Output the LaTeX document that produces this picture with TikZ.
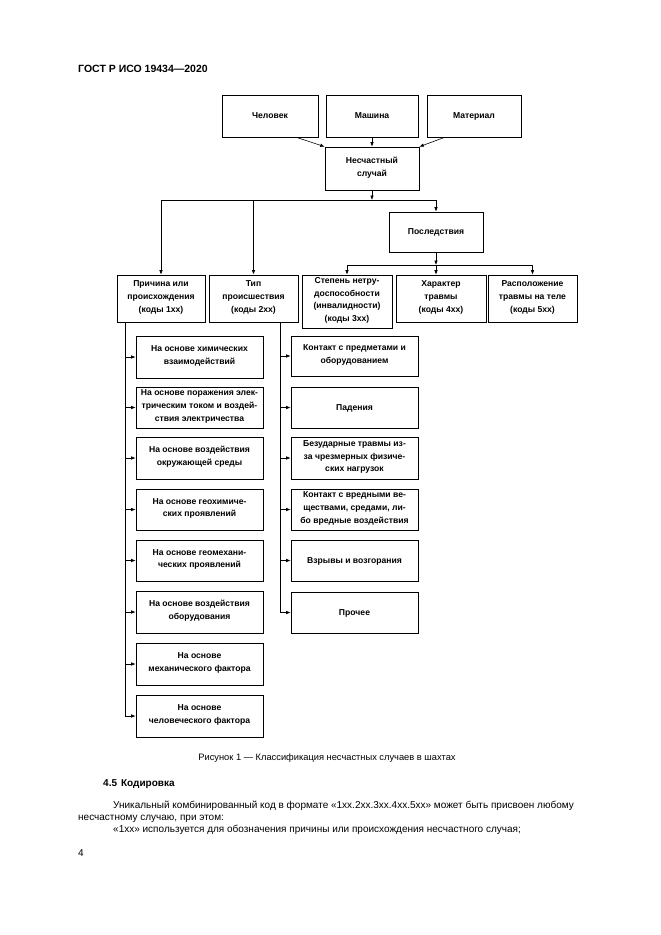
\documentclass[tikz,border=0pt]{standalone}
\usepackage{fontspec}
\setmainfont{Liberation Sans}
\usetikzlibrary{arrows.meta}
\newcommand\bx[6]{\node[box, minimum width={#4-#2}, minimum height={#5-#3}] (#1) at ({(#2+#4)/2},{(#3+#5)/2}) {#6};}
\begin{document}
\begin{tikzpicture}[x=1pt,y=-1pt,
 box/.style={draw, line width=0.6pt, align=center, font=\fontsize{8.6}{12.8}\selectfont\bfseries, inner sep=0.5pt,
   execute at begin node=\strut, execute at end node=\strut},
 arr/.style={-{Latex[length=4.5pt,width=3.5pt]}, line width=0.6pt},
 ln/.style={line width=0.6pt},
 txt/.style={anchor=base west, inner sep=0pt, font=\fontsize{10}{12}\selectfont}]
\useasboundingbox[fill=white] (0,0) rectangle (661,935);
\node[txt, font=\fontsize{10.5}{12}\selectfont\bfseries] (hdr) at (78,72) {ГОСТ Р ИСО 19434—2020};

\bx{chel}{222}{95}{318}{137}{Человек}
\bx{mash}{326}{95}{418}{137}{Машина}
\bx{mat}{427}{95}{521}{137}{Материал}
\bx{ns}{325}{147}{419}{190}{Несчастный\\случай}
\bx{posl}{389}{212}{483}{252}{Последствия}
\bx{prich}{117}{275}{205}{322}{Причина или\\происхождения\\(коды 1xx)}
\bx{tip}{209}{275}{298}{322}{Тип\\происшествия\\(коды 2xx)}
\bx{stp}{302}{275}{392}{328}{Степень нетру-\\доспособности\\(инвалидности)\\(коды 3xx)}
\bx{har}{396}{275}{486}{322}{Характер\\травмы\\(коды 4xx)}
\bx{rasp}{488}{275}{577}{322}{Расположение\\травмы на теле\\(коды 5xx)}

\bx{l1}{136}{336}{263}{378}{На основе химических\\взаимодействий}
\bx{l2}{136}{387}{263}{428}{На основе поражения элек-\\трическим током и воздей-\\ствия электричества}
\bx{l3}{136}{437}{263}{479}{На основе воздействия\\окружающей среды}
\bx{l4}{136}{489}{263}{530}{На основе геохимиче-\\ских проявлений}
\bx{l5}{136}{540}{263}{581}{На основе геомехани-\\ческих проявлений}
\bx{l6}{136}{591}{263}{633}{На основе воздействия\\оборудования}
\bx{l7}{136}{643}{263}{685}{На основе\\механического фактора}
\bx{l8}{136}{695}{263}{737}{На основе\\человеческого фактора}

\bx{r1}{291}{336}{418}{376}{Контакт с предметами и\\оборудованием}
\bx{r2}{291}{387}{418}{428}{Падения}
\bx{r3}{291}{437}{418}{479}{Безударные травмы из-\\за чрезмерных физиче-\\ских нагрузок}
\bx{r4}{291}{489}{418}{530}{Контакт с вредными ве-\\ществами, средами, ли-\\бо вредные воздействия}
\bx{r5}{291}{540}{418}{581}{Взрывы и возгорания}
\bx{r6}{291}{592}{418}{633}{Прочее}

% top arrows
\draw[arr] ([xshift=-22pt]chel.south east) -- (ns.north west);
\draw[arr] (mash.south) -- (ns.north);
\draw[arr] ([xshift=18pt]mat.south west) -- (ns.north east);

\coordinate (hl) at (161,200);
\coordinate (hr) at (436,200);
\draw[arr] (ns.south) -- (ns.south |- hl);
\draw[ln] (hl) -- (hr);
\draw[arr] (hr) -- (posl.north);
\draw[arr] (hl) -- (prich.north);
\draw[arr, line width=1.1pt] (tip.north |- hl) -- (tip.north);

\coordinate (h2) at (436,265);
\draw[arr] (posl.south) -- (h2);
\draw[ln] (stp.north |- h2) -- (rasp.north |- h2);
\draw[arr] (h2) -- (posl.south |- har.north);
\draw[arr] (stp.north |- h2) -- (stp.north);
\draw[arr] (rasp.north |- h2) -- (rasp.north);

% left column
\coordinate (lv) at (125,322);
\foreach \n in {l1,l2,l3,l4,l5,l6,l7} {\draw[arr] (lv |- \n.west) -- (\n.west);}
\draw[arr] (lv) |- (l8.west);
% right column
\coordinate (rv) at (280,322);
\foreach \n in {r1,r2,r3,r4,r5} {\draw[arr] (rv |- \n.west) -- (\n.west);}
\draw[arr] (rv) |- (r6.west);

\node[anchor=base, inner sep=0pt, font=\fontsize{9.3}{11}\selectfont] (cap) at (327,760) {Рисунок 1 — Классификация несчастных случаев в шахтах};
\node[txt, font=\fontsize{10}{12}\selectfont\bfseries] (sec) at (103,786) {4.5\hspace{4pt}Кодировка};
\node[txt] (p1) at (113,808) {Уникальный комбинированный код в формате «1xx.2xx.3xx.4xx.5xx» может быть присвоен любому};
\node[txt] (p2) at (78,820) {несчастному случаю, при этом:};
\node[txt] (p3) at (113,832) {«1xx» используется для обозначения причины или происхождения несчастного случая;};
\node[txt] (pg) at (78,856) {4};
\end{tikzpicture}
\end{document}
